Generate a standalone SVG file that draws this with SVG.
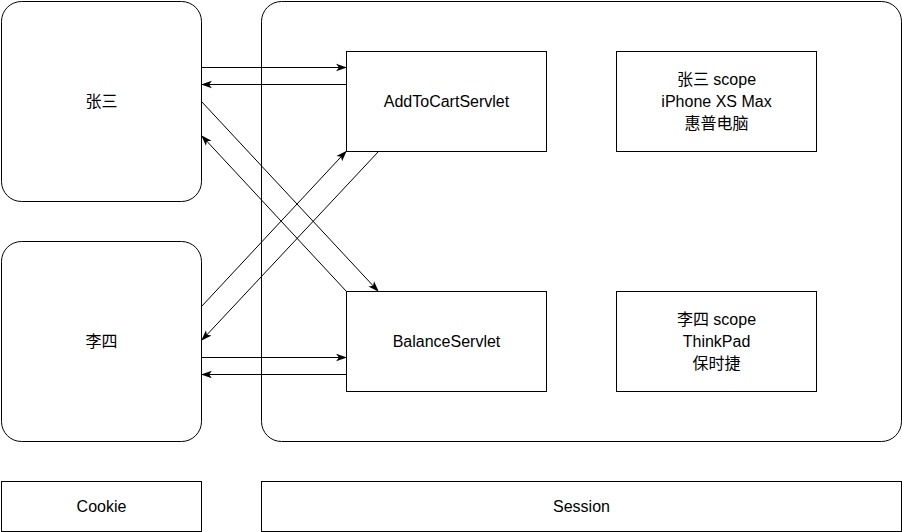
<svg xmlns="http://www.w3.org/2000/svg" width="902" height="532" viewBox="0 0 902 532">
<style>
.box{fill:#fff;stroke:#000;stroke-width:1}
.t{font-family:"Liberation Sans","Noto Sans CJK SC",Arial,sans-serif;font-size:16px;fill:#000;text-anchor:middle}
.c{stroke:#000;stroke-width:1;fill:none;marker-end:url(#arr)}
</style>
<defs>
<marker id="arr" viewBox="0 0 10 10" refX="9" refY="5" markerWidth="11" markerHeight="11" markerUnits="userSpaceOnUse" orient="auto">
<path d="M0,1.5 L10,5 L0,8.5 L2.5,5 Z" fill="#000"/>
</marker>
</defs>
<rect width="902" height="532" fill="#fff"/>
<g id="session-area"><rect class="box" x="261.5" y="1.5" width="640" height="440" rx="20" ry="20"/></g>
<g id="zhangsan"><rect class="box" x="1.5" y="1.5" width="200" height="200" rx="20" ry="20"/><text class="t" x="101.5" y="107">张三</text></g>
<g id="lisi"><rect class="box" x="1.5" y="241.5" width="200" height="200" rx="20" ry="20"/><text class="t" x="101.5" y="347">李四</text></g>
<g id="addtocart"><rect class="box" x="346.5" y="51.5" width="200" height="100"/><text class="t" x="446.5" y="106.5">AddToCartServlet</text></g>
<g id="balance"><rect class="box" x="346.5" y="291.5" width="200" height="100"/><text class="t" x="446.5" y="346.5">BalanceServlet</text></g>
<g id="zhangsan-scope"><rect class="box" x="616.5" y="51.5" width="200" height="100"/><text class="t" x="716.5" y="84.5">张三 scope</text><text class="t" x="716.5" y="106.5">iPhone XS Max</text><text class="t" x="716.5" y="128.5">惠普电脑</text></g>
<g id="lisi-scope"><rect class="box" x="616.5" y="291.5" width="200" height="100"/><text class="t" x="716.5" y="324.5">李四 scope</text><text class="t" x="716.5" y="346.5">ThinkPad</text><text class="t" x="716.5" y="368.5">保时捷</text></g>
<g id="cookie"><rect class="box" x="1.5" y="481.5" width="200" height="50"/><text class="t" x="101.5" y="511.5">Cookie</text></g>
<g id="session"><rect class="box" x="261.5" y="481.5" width="640" height="50"/><text class="t" x="581.5" y="511.5">Session</text></g>
<g id="connectors">
<path class="c" d="M201.5,67.5 L346,67.5"/>
<path class="c" d="M346.5,84.5 L202,84.5"/>
<path class="c" d="M201.5,101.5 L378,291"/>
<path class="c" d="M346.5,291.5 L202,136"/>
<path class="c" d="M201.5,306.5 L346,151.5"/>
<path class="c" d="M378.5,151.5 L202,340"/>
<path class="c" d="M201.5,357.5 L346,357.5"/>
<path class="c" d="M346.5,374.5 L202,374.5"/>
</g>
</svg>
